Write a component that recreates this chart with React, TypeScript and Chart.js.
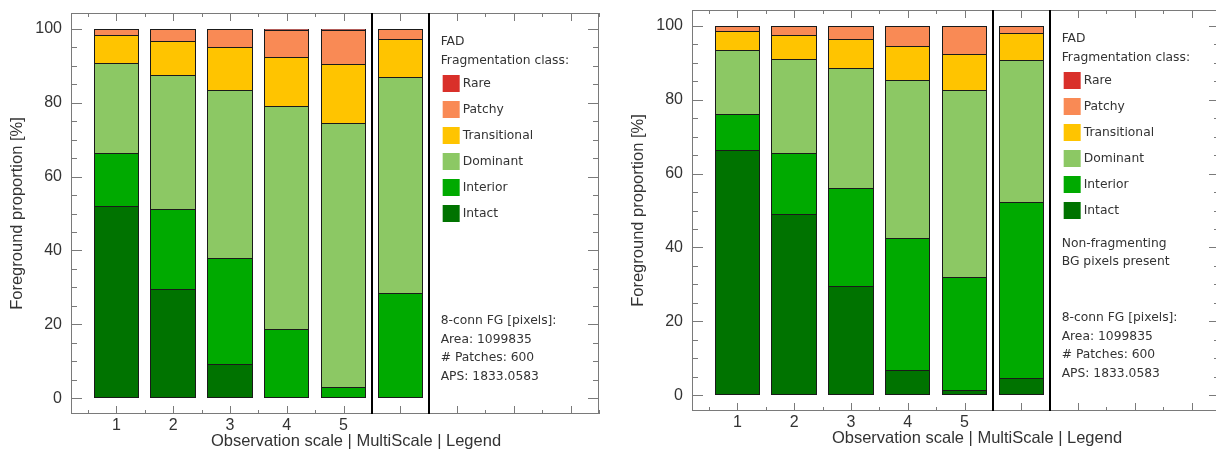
import React, { useEffect, useRef } from 'react';
import { Chart, registerables } from 'chart.js';

Chart.register(...registerables);

// ---------- data ----------
const CATEGORIES = [1, 2, 3, 4, 5, 6];
const TICK_VALUES = [1, 2, 3, 4, 5];
const TICK_LABELS = ['1', '2', '3', '4', '5'];
const Y_TICKS = [0, 20, 40, 60, 80, 100];
const SEPARATORS = [5.5, 6.5];

// stack order bottom -> top
const CLASS_NAMES = ['Intact', 'Interior', 'Dominant', 'Transitional', 'Patchy', 'Rare'];
const CLASS_COLORS = ['#007300', '#00aa00', '#8cc864', '#ffc400', '#f98a55', '#d9302a'];

const LEFT_INTACT = [52.1, 29.7, 9.3, 0, 0, 0];
const LEFT_INTERIOR = [14.3, 21.4, 28.7, 18.9, 3.0, 28.6];
const LEFT_DOMINANT = [24.3, 36.3, 45.4, 60.2, 71.5, 58.2];
const LEFT_TRANSITIONAL = [7.6, 9.1, 11.5, 13.3, 16.0, 10.3];
const LEFT_PATCHY = [1.7, 3.5, 4.9, 7.3, 9.2, 2.9];
const LEFT_RARE = [0, 0, 0.2, 0.3, 0.3, 0];

const RIGHT_INTACT = [66.3, 49.1, 29.6, 6.9, 1.4, 4.7];
const RIGHT_INTERIOR = [9.9, 16.5, 26.4, 35.7, 30.5, 47.5];
const RIGHT_DOMINANT = [17.1, 25.4, 32.6, 42.8, 50.8, 38.5];
const RIGHT_TRANSITIONAL = [5.2, 6.5, 7.8, 9.2, 9.5, 7.3];
const RIGHT_PATCHY = [1.5, 2.5, 3.4, 5.2, 7.6, 2.0];
const RIGHT_RARE = [0, 0, 0.2, 0.2, 0.2, 0];

const LEGEND_HEAD = ['FAD', 'Fragmentation class:'];
const INFO_LINES = ['8-conn FG [pixels]:', 'Area: 1099835', '# Patches: 600', 'APS: 1833.0583'];
const RIGHT_NOTES = ['Non-fragmenting', 'BG pixels present'];
const X_TITLE = 'Observation scale | MultiScale | Legend';
const Y_TITLE = 'Foreground proportion [%]';

// ---------- style ----------
const AXIS_FONT = '"Liberation Sans", Arial, sans-serif';
const LEGEND_FONT = '"DejaVu Sans", sans-serif';
const TEXT_COLOR = '#333333';
const FRAME_COLOR = '#7a7a7a';

function makeDecor(notes: string[]) {
  return {
    id: 'decor',
    // snap bar edges to whole pixels so segment borders stay crisp
    beforeDatasetsDraw(chart: any) {
      chart.data.datasets.forEach((_: any, di: number) => {
        const meta = chart.getDatasetMeta(di);
        meta.data.forEach((el: any) => {
          const l = Math.round(el.x - el.width / 2);
          const r = Math.round(el.x + el.width / 2);
          el.x = (l + r) / 2;
          el.width = r - l;
          el.y = Math.round(el.y);
          el.base = Math.round(el.base);
        });
      });
    },
    afterDraw(chart: any) {
      const { ctx, chartArea: a, scales } = chart;
      const x = scales.x;
      const y = scales.y;
      ctx.save();

      // frame
      ctx.strokeStyle = FRAME_COLOR;
      ctx.lineWidth = 1;
      ctx.strokeRect(a.left + 0.5, a.top + 0.5, a.right - a.left - 1, a.bottom - a.top - 1);

      // inward ticks on y (left & right)
      for (let v = 0; v <= 100; v += 5) {
        const py = Math.round(y.getPixelForValue(v)) + 0.5;
        const len = Y_TICKS.includes(v) ? 11 : 6;
        ctx.beginPath();
        ctx.moveTo(a.left, py);
        ctx.lineTo(a.left + len, py);
        ctx.moveTo(a.right, py);
        ctx.lineTo(a.right - len, py);
        ctx.stroke();
      }
      // inward ticks on x (bottom & top)
      for (let v = 0.5; v <= 9.5; v += 0.5) {
        const px = Math.round(x.getPixelForValue(v)) + 0.5;
        const len = Number.isInteger(v) ? 8 : 4;
        ctx.beginPath();
        ctx.moveTo(px, a.bottom);
        ctx.lineTo(px, a.bottom - len);
        ctx.moveTo(px, a.top);
        ctx.lineTo(px, a.top + len);
        ctx.stroke();
      }

      // separators
      ctx.strokeStyle = '#000000';
      ctx.lineWidth = 2;
      SEPARATORS.forEach((v) => {
        const px = Math.round(x.getPixelForValue(v));
        ctx.beginPath();
        ctx.moveTo(px, a.top);
        ctx.lineTo(px, a.bottom);
        ctx.stroke();
      });

      // x title
      ctx.fillStyle = TEXT_COLOR;
      ctx.font = `16.5px ${AXIS_FONT}`;
      ctx.textAlign = 'center';
      ctx.textBaseline = 'middle';
      ctx.fillText(X_TITLE, (a.left + a.right) / 2 + 21, a.bottom + 27.5);

      // legend block
      const x0 = x.getPixelForValue(SEPARATORS[1]) + 12;
      ctx.font = `12.3px ${LEGEND_FONT}`;
      ctx.textAlign = 'left';
      LEGEND_HEAD.forEach((t, k) => ctx.fillText(t, x0, a.top + 29 + 18.5 * k));
      const order = CLASS_NAMES.map((_, k) => CLASS_NAMES.length - 1 - k);
      order.forEach((ci, k) => {
        const cy = a.top + 70.5 + 26 * k;
        ctx.fillStyle = CLASS_COLORS[ci];
        ctx.fillRect(x0 + 2, Math.round(cy - 8.5), 17, 17);
        ctx.fillStyle = TEXT_COLOR;
        ctx.fillText(CLASS_NAMES[ci], x0 + 22, cy);
      });
      notes.forEach((t, k) => ctx.fillText(t, x0, a.top + 233.5 + 18.5 * k));
      INFO_LINES.forEach((t, k) => ctx.fillText(t, x0, a.top + 308 + 18.5 * k));

      ctx.restore();
    },
  };
}

function Panel({ series, notes, left, top }: { series: number[][]; notes: string[]; left: number; top: number }) {
  const ref = useRef<HTMLCanvasElement | null>(null);
  useEffect(() => {
    if (!ref.current) return;
    const datasets = CLASS_NAMES.map((name, k) => ({
      label: name,
      data: CATEGORIES.map((c, i) => ({ x: c, y: series[k][i] })),
      backgroundColor: CLASS_COLORS[k],
      borderColor: '#1a1a1a',
      borderSkipped: false as const,
      borderWidth: (ctx: any) => {
        const i = ctx.dataIndex;
        let lowest = true;
        for (let j = 0; j < ctx.datasetIndex; j++) if (series[j][i] > 0) lowest = false;
        return { top: 1, left: 1, right: 1, bottom: lowest ? 1 : 0 };
      },
      inflateAmount: 0,
      stack: 'all',
      barPercentage: 0.8,
      categoryPercentage: 1.0,
    }));
    const chart = new Chart(ref.current, {
      type: 'bar',
      data: { datasets } as any,
      options: {
        responsive: false,
        animation: false,
        devicePixelRatio: 1,
        layout: { padding: { left: 0, top: 13, right: 9, bottom: 0 } },
        plugins: { legend: { display: false }, tooltip: { enabled: false } },
        scales: {
          x: {
            type: 'linear',
            min: 0.2,
            max: 9.5,
            offset: false,
            afterBuildTicks: (s: any) => {
              s.ticks = TICK_VALUES.map((v) => ({ value: v }));
            },
            afterFit: (s: any) => {
              s.height = 36;
              s.paddingLeft = 0;
              s.paddingRight = 0;
            },
            grid: { display: false, drawTicks: false, offset: false },
            border: { display: false },
            ticks: {
              autoSkip: false,
              maxRotation: 0,
              padding: 2,
              color: TEXT_COLOR,
              font: { family: AXIS_FONT, size: 16 },
              callback: (v: any) => {
                const idx = TICK_VALUES.indexOf(Number(v));
                return idx >= 0 ? TICK_LABELS[idx] : '';
              },
            },
          },
          y: {
            type: 'linear',
            min: -4.2,
            max: 104.2,
            stacked: true,
            afterBuildTicks: (s: any) => {
              s.ticks = Y_TICKS.map((v) => ({ value: v }));
            },
            afterFit: (s: any) => {
              s.width = 71;
              s.paddingTop = 0;
              s.paddingBottom = 0;
            },
            grid: { display: false, drawTicks: false },
            border: { display: false },
            ticks: {
              padding: 9,
              color: TEXT_COLOR,
              font: { family: AXIS_FONT, size: 16 },
              callback: (v: any) => String(v),
            },
            title: {
              display: true,
              text: Y_TITLE,
              color: TEXT_COLOR,
              font: { family: AXIS_FONT, size: 16.5 },
              padding: { top: 8, bottom: 0 },
            },
          },
        },
      } as any,
      plugins: [makeDecor(notes)],
    });
    return () => chart.destroy();
  }, []);
  return (
    <canvas
      ref={ref}
      width={608}
      height={450}
      style={{ position: 'absolute', left, top, width: 608, height: 450 }}
    />
  );
}

export default function App() {
  const leftSeries = [LEFT_INTACT, LEFT_INTERIOR, LEFT_DOMINANT, LEFT_TRANSITIONAL, LEFT_PATCHY, LEFT_RARE];
  const rightSeries = [RIGHT_INTACT, RIGHT_INTERIOR, RIGHT_DOMINANT, RIGHT_TRANSITIONAL, RIGHT_PATCHY, RIGHT_RARE];
  return (
    <div
      style={{
        position: 'fixed',
        left: 0,
        top: 0,
        width: 1216,
        height: 450,
        overflow: 'hidden',
        background: '#ffffff',
      }}
    >
      <Panel series={leftSeries} notes={[]} left={0} top={0} />
      <Panel series={rightSeries} notes={RIGHT_NOTES} left={621} top={-3} />
    </div>
  );
}
